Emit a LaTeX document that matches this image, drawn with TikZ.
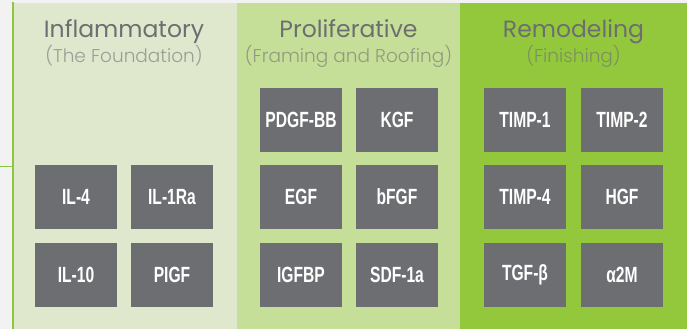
\documentclass[tikz,border=0pt]{standalone}
\usepackage{fontspec}
\setmainfont{Poppins}
\newfontfamily\lightfont{Poppins}[UprightFont=* Light]
\newfontfamily\factorfont{Liberation Sans}[FakeStretch=0.71]
\usetikzlibrary{positioning}
\definecolor{pagegray}{HTML}{F2F2F2}
\definecolor{inflamgreen}{HTML}{DFE8CD}
\definecolor{prolifgreen}{HTML}{C5DF98}
\definecolor{remodgreen}{HTML}{93C83D}
\definecolor{linegreen}{HTML}{8DC63F}
\definecolor{boxgray}{HTML}{6D6E71}
\tikzstyle{factor}=[fill=boxgray,rectangle,minimum width=82pt,minimum height=64pt,inner sep=0pt,text=white,font=\factorfont\bfseries\fontsize{22}{22}\selectfont]
\tikzstyle{phase}=[anchor=base,text=boxgray,font=\fontsize{23.5}{23.5}\selectfont]
\tikzstyle{subphase}=[anchor=base,text=boxgray,text opacity=0.6,font=\lightfont\fontsize{18.5}{18.5}\selectfont]

\begin{document}
\begin{tikzpicture}[x=1pt,y=1pt]
  \fill[pagegray] (0,0) rectangle (687,329);
  \useasboundingbox (0,0) rectangle (687,329);
  % the three phase panels
  \fill[inflamgreen] (14,0) rectangle (237,326);
  \fill[prolifgreen] (237,0) rectangle (460,326);
  \fill[remodgreen] (460,0) rectangle (687,326);
  \draw[linegreen, line width=2pt] (13,0) -- (13,327);
  \draw[linegreen, line width=1pt] (0,162.5) -- (13,162.5);

  % headings
  \node[phase] (inflam) at (124,291) {Inflammatory};
  \node[subphase] (inflamsub) at (124,266.5) {(The Foundation)};
  \node[phase] (prolif) at (348.5,291) {Proliferative};
  \node[subphase] (prolifsub) at (348.5,266.5) {(Framing and Roofing)};
  \node[phase] (remod) at (573.5,291) {Remodeling};
  \node[subphase] (remodsub) at (573.5,266.5) {(Finishing)};

  % inflammatory factors
  \node[factor] (il4) at (76,132) {IL-4};
  \node[factor, right of=il4, node distance=96pt] (il1ra) {IL-1Ra};
  \node[factor, below of=il4, node distance=78pt] (il10) {IL-10};
  \node[factor, right of=il10, node distance=96pt] (pigf) {PIGF};

  % proliferative factors
  \node[factor] (pdgf) at (301,209) {PDGF-BB};
  \node[factor, right of=pdgf, node distance=96pt] (kgf) {KGF};
  \node[factor, below of=pdgf, node distance=77pt] (egf) {EGF};
  \node[factor, right of=egf, node distance=96pt] (bfgf) {bFGF};
  \node[factor, below of=egf, node distance=78pt] (igfbp) {IGFBP};
  \node[factor, right of=igfbp, node distance=96pt] (sdf) {SDF-1a};

  % remodeling factors
  \node[factor] (timp1) at (525,209) {TIMP-1};
  \node[factor, right of=timp1, node distance=97pt] (timp2) {TIMP-2};
  \node[factor, below of=timp1, node distance=77pt] (timp4) {TIMP-4};
  \node[factor, right of=timp4, node distance=97pt] (hgf) {HGF};
  \node[factor, below of=timp4, node distance=78pt] (tgfb) {TGF-β};
  \node[factor, right of=tgfb, node distance=97pt] (a2m) {α2M};
\end{tikzpicture}
\end{document}
